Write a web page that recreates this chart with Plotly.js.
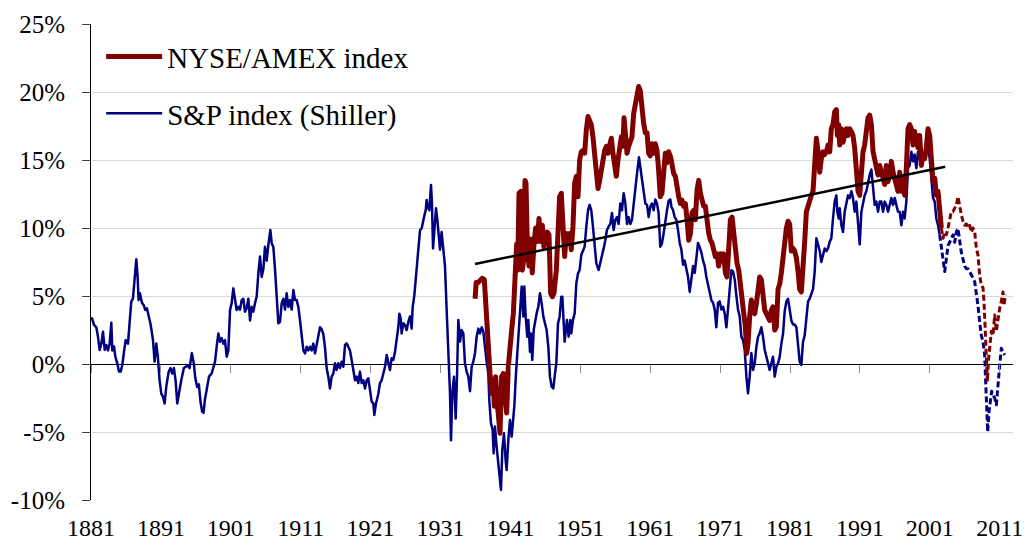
<!DOCTYPE html>
<html>
<head>
<meta charset="utf-8">
<script src="https://cdn.plot.ly/plotly-3.0.1.min.js"></script>
<style>
html,body{margin:0;padding:0;background:#fff;}
#chart{width:1030px;height:543px;}
.scatterlayer path.js-line{stroke-linejoin:round;}
</style>
</head>
<body>
<div id="chart"></div>
<script>
// S&P index (Shiller), solid part
var spYears = [1881.0,1881.15,1881.43,1881.76,1882.0,1882.24,1882.48,1882.72,1882.96,1883.19,1883.43,1883.67,1883.91,1884.05,1884.29,1884.48,1884.76,1885.0,1885.24,1885.48,1885.72,1885.96,1886.29,1886.53,1886.76,1887.0,1887.24,1887.48,1887.67,1887.81,1888.0,1888.29,1888.57,1888.76,1889.0,1889.24,1889.53,1889.86,1890.1,1890.34,1890.57,1890.81,1891.05,1891.29,1891.53,1891.76,1892.1,1892.38,1892.62,1892.86,1893.1,1893.34,1893.67,1893.91,1894.29,1894.62,1894.86,1895.1,1895.43,1895.72,1895.91,1896.19,1896.43,1896.67,1896.9,1897.1,1897.3,1897.55,1897.88,1898.26,1898.5,1898.74,1898.98,1899.22,1899.46,1899.69,1899.93,1900.17,1900.41,1900.65,1900.89,1901.12,1901.36,1901.6,1901.84,1902.08,1902.32,1902.56,1902.79,1903.03,1903.27,1903.51,1903.75,1903.99,1904.22,1904.46,1904.7,1904.94,1905.18,1905.42,1905.66,1905.89,1906.13,1906.37,1906.66,1906.85,1907.09,1907.32,1907.56,1907.8,1908.04,1908.28,1908.52,1908.75,1908.99,1909.23,1909.47,1909.71,1909.95,1910.19,1910.42,1910.66,1910.9,1911.14,1911.38,1911.62,1911.85,1912.09,1912.33,1912.57,1912.81,1913.05,1913.29,1913.52,1913.76,1914.0,1914.24,1914.48,1914.71,1914.95,1915.19,1915.43,1915.67,1915.91,1916.14,1916.38,1916.62,1916.86,1917.1,1917.34,1917.57,1917.81,1918.05,1918.29,1918.53,1918.77,1919.0,1919.24,1919.48,1919.72,1919.96,1920.2,1920.44,1920.67,1920.91,1921.15,1921.39,1921.53,1921.77,1922.1,1922.34,1922.58,1922.82,1923.06,1923.3,1923.54,1923.77,1924.01,1924.25,1924.49,1924.73,1924.97,1925.11,1925.3,1925.44,1925.68,1925.92,1926.16,1926.4,1926.64,1926.87,1927.02,1927.26,1927.49,1927.73,1927.92,1928.07,1928.3,1928.45,1928.64,1928.88,1929.02,1929.16,1929.4,1929.64,1929.78,1929.93,1930.12,1930.36,1930.55,1930.78,1930.93,1931.16,1931.4,1931.64,1931.88,1932.12,1932.36,1932.5,1932.69,1932.93,1933.17,1933.36,1933.55,1933.79,1934.02,1934.26,1934.5,1934.74,1934.98,1935.22,1935.46,1935.69,1935.93,1936.17,1936.41,1936.65,1936.89,1937.12,1937.36,1937.6,1937.84,1937.98,1938.22,1938.46,1938.6,1938.79,1939.03,1939.27,1939.51,1939.65,1939.84,1940.08,1940.32,1940.46,1940.7,1940.94,1941.18,1941.42,1941.56,1941.8,1942.04,1942.23,1942.37,1942.61,1942.85,1942.99,1943.18,1943.42,1943.56,1943.8,1943.94,1944.13,1944.33,1944.52,1944.75,1944.99,1945.23,1945.47,1945.71,1945.95,1946.18,1946.42,1946.66,1946.9,1947.14,1947.38,1947.57,1947.81,1948.04,1948.28,1948.43,1948.76,1949.09,1949.33,1949.57,1949.71,1949.95,1950.19,1950.43,1950.67,1950.9,1951.14,1951.38,1951.62,1951.86,1952.1,1952.33,1952.57,1952.81,1953.05,1953.29,1953.62,1953.86,1954.1,1954.34,1954.58,1954.81,1955.05,1955.29,1955.53,1955.77,1956.01,1956.25,1956.48,1956.72,1956.96,1957.2,1957.44,1957.68,1957.91,1958.15,1958.39,1958.63,1958.87,1959.11,1959.39,1959.58,1959.82,1960.06,1960.3,1960.54,1960.78,1961.01,1961.25,1961.49,1961.73,1961.97,1962.2,1962.44,1962.68,1962.92,1963.16,1963.4,1963.64,1963.88,1964.03,1964.27,1964.5,1964.74,1964.98,1965.22,1965.46,1965.7,1965.93,1966.17,1966.41,1966.65,1966.89,1967.13,1967.37,1967.6,1967.84,1968.08,1968.32,1968.56,1968.8,1969.03,1969.27,1969.51,1969.75,1969.99,1970.23,1970.46,1970.7,1970.94,1971.18,1971.42,1971.66,1971.9,1972.13,1972.37,1972.61,1972.85,1973.09,1973.33,1973.56,1973.8,1974.04,1974.28,1974.52,1974.76,1974.99,1975.23,1975.47,1975.71,1975.95,1976.19,1976.43,1976.66,1976.9,1977.14,1977.38,1977.62,1977.86,1978.09,1978.33,1978.57,1978.81,1979.05,1979.29,1979.53,1979.76,1980.0,1980.24,1980.48,1980.72,1980.95,1981.19,1981.43,1981.67,1981.91,1982.15,1982.38,1982.62,1982.86,1983.1,1983.34,1983.58,1983.81,1984.05,1984.29,1984.53,1984.77,1985.01,1985.25,1985.48,1985.72,1985.96,1986.2,1986.44,1986.68,1986.91,1987.15,1987.39,1987.63,1987.77,1987.96,1988.11,1988.35,1988.58,1988.82,1989.06,1989.3,1989.54,1989.78,1990.01,1990.25,1990.49,1990.73,1990.97,1991.21,1991.44,1991.68,1991.92,1992.16,1992.4,1992.64,1992.88,1993.11,1993.35,1993.59,1993.83,1994.07,1994.31,1994.54,1994.78,1995.02,1995.26,1995.5,1995.74,1995.98,1996.21,1996.45,1996.69,1996.93,1997.17,1997.4,1997.64,1997.88,1998.12,1998.36,1998.6,1998.83,1999.07,1999.31,1999.55,1999.79,2000.03,2000.27,2000.5,2000.74,2000.98,2001.22,2001.46,2001.7,2001.93,2002.17,2002.41];
var spValues = [3.3,3.36,2.87,2.7,2.0,1.03,1.5,2.37,1.03,1.4,1.0,1.5,3.04,1.0,1.3,0.54,0.05,-0.56,-0.56,-0.07,0.9,1.76,1.5,3.2,4.58,4.8,6.42,7.7,6.4,4.7,5.2,4.5,4.3,3.97,4.1,3.5,2.9,1.8,0.17,1.5,0.5,-1.18,-2.16,-2.4,-2.9,-1.7,-0.6,-0.3,-0.7,-0.3,-1.2,-2.9,-1.7,-1.2,-0.3,-0.2,-0.1,-0.3,0.8,0.0,-1.0,-1.7,-1.5,-2.8,-3.5,-3.6,-2.6,-1.9,-0.93,-0.7,-0.2,0.17,1.27,2.25,1.64,1.9,1.5,1.76,0.54,1.0,3.97,4.46,5.56,4.7,3.97,4.2,4.0,4.7,4.8,3.85,4.1,4.8,3.2,4.2,3.85,4.46,4.96,6.67,7.9,6.4,7.0,8.63,7.6,8.75,9.85,8.87,8.6,7.0,5.2,3.0,3.1,4.46,4.8,4.0,5.2,4.2,4.7,4.0,5.44,4.7,4.7,4.2,3.2,2.0,1.0,0.78,1.27,1.0,1.27,1.0,1.5,0.78,1.4,2.1,2.7,2.55,2.2,1.2,-0.3,-0.93,-1.8,-0.93,-0.7,0.05,-0.44,0.05,-0.3,0.17,-0.2,1.4,1.52,1.27,1.0,0.3,-0.44,-1.2,-0.93,-1.4,-0.56,-1.4,-1.2,-1.8,-1.2,-1.05,-1.9,-2.77,-2.9,-3.75,-2.9,-2.2,-1.4,-1.2,-0.7,-0.2,0.66,0.17,-0.44,0.42,0.3,0.9,1.76,2.74,3.7,3.35,2.25,3.0,2.86,2.5,3.1,3.5,2.6,4.2,5.07,6.4,8.14,9.36,9.85,9.97,10.5,10.8,11.3,12.06,11.6,11.3,13.16,11.8,8.5,9.85,11.45,10.6,9.5,8.4,9.7,8.1,7.2,3.97,1.27,-2.16,-5.6,-2.16,-0.93,-4.0,-0.93,3.24,1.64,2.5,2.25,0.05,-0.56,-0.93,-2.0,-0.2,0.17,0.78,2.0,2.6,2.25,2.7,2.4,1.0,0.17,-0.7,-2.65,-4.36,-4.85,-6.57,-4.6,-6.1,-7.55,-8.9,-9.26,-6.3,-5.1,-7.1,-7.8,-5.6,-4.12,-5.35,-3.9,-3.1,-0.7,1.27,2.1,3.5,5.7,3.5,5.7,3.5,2.0,3.24,0.9,2.25,0.3,2.5,3.24,3.72,4.2,5.2,4.46,3.5,2.98,2.5,1.27,-0.93,-1.66,-1.8,-0.7,0.05,2.99,3.48,4.95,4.95,1.64,3.23,2.01,3.23,2.25,3.23,3.72,5.93,6.66,6.91,8.01,8.26,8.63,10.1,11.3,11.7,11.3,10.1,8.63,7.4,6.91,7.4,8.01,8.5,9.1,9.85,10.1,10.3,11.1,9.85,10.6,10.8,10.3,11.8,11.3,12.55,11.8,10.3,10.8,10.3,10.6,11.8,13.3,14.0,15.2,14.5,13.3,12.55,11.8,11.7,10.8,11.57,11.8,11.3,12.1,11.8,11.1,8.63,8.87,9.6,10.6,11.3,12.0,12.1,11.57,11.3,10.8,10.6,9.85,8.9,8.4,7.3,7.6,6.9,6.4,5.3,6.4,7.2,6.7,7.6,8.9,8.6,8.2,7.6,7.2,6.4,5.9,5.4,4.7,4.5,4.0,2.7,4.5,4.6,4.0,4.2,3.7,2.7,4.0,5.7,6.9,6.8,6.2,5.0,4.0,3.5,2.0,1.76,1.03,-0.93,-2.16,-0.93,0.8,-0.44,0.05,1.27,2.0,2.25,2.7,2.0,1.03,0.54,0.05,-0.44,0.05,0.54,-0.93,-0.2,0.05,0.54,1.5,2.2,3.9,4.6,4.8,3.9,3.2,2.9,2.9,2.7,1.5,0.17,-0.07,1.64,2.1,3.36,4.6,4.8,5.1,5.5,6.8,9.24,8.8,8.3,7.5,8.0,8.5,8.3,8.5,9.0,9.24,10.7,11.94,12.4,11.2,10.7,11.45,10.2,9.7,11.2,11.94,12.4,12.2,12.7,12.2,11.2,11.94,10.2,8.8,11.2,11.94,12.4,12.7,13.4,13.9,14.3,12.7,11.7,11.94,11.2,11.94,11.94,11.2,11.94,11.7,11.2,11.7,12.2,11.7,12.2,11.7,11.2,11.2,10.2,11.2,10.7,11.94,14.4,14.6,15.6,14.9,15.4,14.4,15.6,15.1,15.9,15.1,15.1,15.6,16.1,15.1,13.4,12.2,11.94,10.7,10.2,9.5];

// S&P index, dashed (recent) part
var spProjYears = [2002.41,2002.65,2002.89,2003.13,2003.36,2003.6,2003.84,2004.08,2004.32,2004.56,2004.8,2005.03,2005.27,2005.51,2005.75,2005.99,2006.23,2006.46,2006.7,2006.94,2007.18,2007.42,2007.66,2007.89,2008.13,2008.37,2008.61,2008.85,2008.99,2009.13,2009.28,2009.47,2009.66,2009.85,2010.04,2010.28,2010.52,2010.76,2011.0,2011.23,2011.47,2011.71];
var spProjValues = [9.5,8.5,7.5,6.8,7.7,8.7,8.95,9.2,9.5,8.95,9.7,9.96,8.95,8.2,7.7,7.2,7.0,7.0,6.8,6.5,6.3,6.05,5.3,4.3,3.1,2.1,1.64,0.66,-1.3,-3.26,-4.98,-3.5,-2.8,-2.0,-2.3,-2.5,-3.0,-1.3,-0.07,1.15,0.9,0.66];

// NYSE/AMEX index, solid part
var nyYears = [1935.95,1936.1,1936.31,1936.65,1936.98,1937.27,1937.46,1937.6,1937.84,1938.08,1938.32,1938.55,1938.7,1938.89,1939.08,1939.27,1939.51,1939.75,1939.99,1940.22,1940.46,1940.7,1940.94,1941.18,1941.42,1941.65,1941.89,1942.04,1942.23,1942.51,1942.7,1942.89,1943.09,1943.23,1943.42,1943.66,1943.9,1944.13,1944.37,1944.61,1944.85,1945.09,1945.33,1945.57,1945.8,1946.04,1946.28,1946.52,1946.76,1947.0,1947.23,1947.57,1947.81,1948.04,1948.28,1948.52,1948.76,1949.0,1949.24,1949.47,1949.71,1949.95,1950.19,1950.43,1950.67,1950.9,1951.14,1951.38,1951.62,1951.86,1952.1,1952.33,1952.57,1952.81,1953.05,1953.29,1953.53,1953.77,1954.0,1954.24,1954.48,1954.72,1954.96,1955.2,1955.44,1955.67,1955.91,1956.15,1956.39,1956.63,1956.87,1957.1,1957.25,1957.49,1957.68,1957.91,1958.15,1958.39,1958.63,1958.87,1959.11,1959.35,1959.58,1959.82,1960.06,1960.3,1960.54,1960.78,1961.01,1961.25,1961.49,1961.73,1961.97,1962.2,1962.44,1962.68,1962.92,1963.16,1963.4,1963.64,1963.93,1964.12,1964.36,1964.6,1964.84,1965.08,1965.31,1965.55,1965.79,1966.03,1966.27,1966.51,1966.75,1966.98,1967.22,1967.46,1967.7,1967.94,1968.18,1968.41,1968.65,1968.89,1969.13,1969.37,1969.61,1969.84,1970.08,1970.32,1970.56,1970.8,1971.04,1971.28,1971.51,1971.75,1971.99,1972.23,1972.47,1972.71,1972.94,1973.18,1973.42,1973.66,1973.9,1974.14,1974.38,1974.61,1974.8,1974.99,1975.23,1975.47,1975.71,1975.95,1976.19,1976.43,1976.66,1976.9,1977.14,1977.38,1977.62,1977.86,1978.09,1978.33,1978.57,1978.81,1979.05,1979.29,1979.53,1979.76,1980.0,1980.24,1980.48,1980.72,1980.95,1981.19,1981.43,1981.67,1981.91,1982.15,1982.38,1982.62,1982.86,1983.1,1983.34,1983.58,1983.81,1984.05,1984.29,1984.53,1984.77,1985.01,1985.25,1985.48,1985.72,1985.96,1986.2,1986.44,1986.68,1986.91,1987.15,1987.39,1987.63,1987.77,1987.96,1988.11,1988.35,1988.58,1988.82,1989.06,1989.3,1989.54,1989.78,1990.01,1990.25,1990.49,1990.73,1990.97,1991.21,1991.44,1991.68,1991.92,1992.16,1992.4,1992.64,1992.88,1993.11,1993.35,1993.59,1993.83,1994.07,1994.31,1994.54,1994.78,1995.02,1995.26,1995.5,1995.74,1995.98,1996.21,1996.45,1996.69,1996.93,1997.17,1997.4,1997.64,1997.88,1998.12,1998.36,1998.6,1998.83,1999.07,1999.31,1999.55,1999.79,2000.03,2000.27,2000.5,2000.74,2000.98,2001.22,2001.46,2001.7,2001.93,2002.17,2002.41,2002.65];
var nyValues = [4.8,6.0,5.96,6.2,6.3,6.2,4.2,2.5,0.78,-0.7,-2.16,-1.2,-3.1,-0.93,-2.65,-3.6,-5.1,-0.93,-0.7,-2.16,-3.6,-0.2,1.76,2.5,3.7,7.4,8.8,6.9,12.55,12.7,6.9,7.6,13.5,13.3,8.8,7.2,9.2,6.7,8.8,10.0,9.0,10.7,9.0,10.2,8.6,9.2,9.7,9.5,5.2,4.95,5.2,6.9,10.1,12.3,12.55,10.6,7.9,9.6,9.1,9.6,8.4,10.1,13.3,13.8,12.3,15.0,15.6,15.7,15.5,17.2,18.2,17.9,17.6,16.7,15.5,13.5,12.9,13.5,14.3,14.8,15.7,16.0,15.5,16.1,16.6,15.5,14.8,13.8,15.0,16.2,16.7,16.0,18.1,16.7,15.5,16.0,16.5,16.7,18.4,19.2,19.9,20.4,20.1,18.7,17.7,17.0,17.0,15.5,15.3,16.2,15.5,16.2,15.7,14.3,12.3,12.55,14.5,15.5,14.8,15.6,15.2,14.5,14.0,13.8,12.8,12.3,11.8,12.05,11.6,11.8,10.6,9.1,9.6,11.1,11.3,10.6,12.8,13.5,12.55,12.05,11.6,11.6,10.3,9.6,9.1,8.9,8.4,7.9,8.1,7.2,8.1,7.6,8.1,6.7,6.4,8.9,10.6,10.8,9.4,8.1,7.4,6.9,5.9,5.2,3.96,2.74,0.78,1.5,3.5,4.7,3.96,3.7,4.46,5.7,6.4,6.2,4.7,3.96,3.7,3.5,3.2,3.96,4.2,2.5,2.74,5.5,5.9,6.7,8.0,9.4,10.0,10.5,10.3,8.3,8.5,8.3,7.8,6.8,5.5,5.3,6.8,9.0,11.2,11.7,12.2,12.4,12.7,14.9,16.6,15.6,14.1,15.1,15.6,15.4,15.6,16.1,15.6,17.3,17.6,18.55,18.7,16.8,17.6,16.1,17.3,16.3,17.1,17.3,16.8,17.3,17.1,16.8,15.9,14.1,12.7,12.4,14.4,15.6,16.1,17.6,18.1,18.3,17.6,15.6,14.9,14.4,13.9,14.6,14.1,13.6,13.2,14.6,13.4,13.9,14.9,14.1,13.6,13.2,12.7,14.1,12.7,13.65,12.4,14.4,17.3,17.6,17.3,16.1,17.1,16.4,15.9,16.8,14.6,15.4,15.1,15.9,17.3,16.8,14.4,13.4,13.65,12.4,12.7,11.2,10.0];

// NYSE/AMEX index, dashed (recent) part
var nyProjYears = [2002.65,2002.89,2003.13,2003.36,2003.6,2003.84,2004.08,2004.32,2004.56,2004.8,2005.03,2005.27,2005.51,2005.75,2005.99,2006.23,2006.46,2006.7,2006.94,2007.18,2007.42,2007.66,2007.89,2008.13,2008.37,2008.61,2008.75,2008.94,2009.09,2009.23,2009.42,2009.61,2009.8,2010.04,2010.28,2010.52,2010.76,2011.0,2011.23,2011.47,2011.61,2011.81];
var nyProjValues = [10.0,9.24,9.7,9.5,10.0,10.5,11.2,11.2,11.45,11.7,12.3,11.45,10.96,10.5,10.2,10.3,10.0,10.2,9.7,10.0,9.7,8.5,8.0,6.5,5.8,5.6,4.6,2.4,0.17,-1.3,0.42,1.64,2.4,2.1,3.6,2.4,3.4,4.1,4.6,5.3,4.3,5.1];

// Trend line
var trendYears = [1935.93, 2003.2];
var trendValues = [7.35, 14.5];

// Axis ticks
var xTickVals = [1881,1891,1901,1911,1921,1931,1941,1951,1961,1971,1981,1991,2001,2011];
var xTickText = ["1881","1891","1901","1911","1921","1931","1941","1951","1961","1971","1981","1991","2001","2011"];
var yTickVals = [-10,-5,0,5,10,15,20,25];
var yTickText = ["-10%","-5%","0%","5%","10%","15%","20%","25%"];

var RED = '#800000', BLUE = '#000080';
var FONT = '"Liberation Serif", "Times New Roman", Times, serif';
var xRange = [1881, 2012.9];
var yRange = [-10, 25];

var traces = [
  {x: spYears, y: spValues, type: 'scatter', mode: 'lines', name: 'S&P index (Shiller)',
   line: {color: BLUE, width: 2.5}, legendgroup: 'b', legendrank: 2, hoverinfo: 'x+y'},
  {x: spProjYears, y: spProjValues, type: 'scatter', mode: 'lines', showlegend: false,
   legendgroup: 'b', line: {color: BLUE, width: 3, dash: '6px,3px'}, hoverinfo: 'x+y'},
  {x: nyYears, y: nyValues, type: 'scatter', mode: 'lines', name: 'NYSE/AMEX index',
   line: {color: RED, width: 5}, legendgroup: 'a', legendrank: 1, hoverinfo: 'x+y'},
  {x: nyProjYears, y: nyProjValues, type: 'scatter', mode: 'lines', showlegend: false,
   legendgroup: 'a', line: {color: RED, width: 3, dash: '6px,3px'}, hoverinfo: 'x+y'},
  {x: trendYears, y: trendValues, type: 'scatter', mode: 'lines', showlegend: false,
   xaxis: 'x2', yaxis: 'y2', line: {color: '#000000', width: 2.5}, hoverinfo: 'skip'}
];

var layout = {
  width: 1030, height: 543,
  margin: {l: 91, r: 17, t: 24, b: 43},
  paper_bgcolor: '#ffffff', plot_bgcolor: '#ffffff',
  font: {family: FONT, size: 25, color: '#000000'},
  showlegend: true,
  legend: {x: 0.011, y: 0.985, xanchor: 'left', yanchor: 'top',
           bgcolor: 'rgba(0,0,0,0)', borderwidth: 0,
           font: {family: FONT, size: 29, color: '#000000'},
           itemwidth: 56, tracegroupgap: 16, traceorder: 'grouped'},
  // main x axis: labels only (transparent ticks push labels down)
  xaxis: {range: xRange, tickmode: 'array', tickvals: xTickVals, ticktext: xTickText,
          showgrid: false, zeroline: false, showline: false,
          ticks: 'outside', ticklen: 6, tickcolor: 'rgba(0,0,0,0)',
          tickfont: {family: FONT, size: 24, color: '#000000'}},
  // tick marks at the 0% line
  xaxis2: {range: xRange, overlaying: 'x', anchor: 'free', position: 10/35,
           tickmode: 'array', tickvals: xTickVals, showticklabels: false,
           ticks: 'outside', ticklen: 8, tickwidth: 1, tickcolor: '#8c8c8c',
           showgrid: false, zeroline: false, showline: false},
  // main y axis: grid, zero line, axis line and labels (transparent long ticks = label gap)
  yaxis: {range: yRange, tickmode: 'array', tickvals: yTickVals, ticktext: yTickText,
          showgrid: true, gridcolor: '#d9d9d9', gridwidth: 1,
          zeroline: true, zerolinecolor: '#000000', zerolinewidth: 1,
          showline: true, linecolor: '#000000', linewidth: 1,
          ticks: 'outside', ticklen: 20, tickcolor: 'rgba(0,0,0,0)',
          tickfont: {family: FONT, size: 25, color: '#000000'}},
  // visible short tick marks on the y axis
  yaxis2: {range: yRange, overlaying: 'y', side: 'left', anchor: 'x',
           tickmode: 'array', tickvals: yTickVals, showticklabels: false,
           ticks: 'outside', ticklen: 8, tickwidth: 1, tickcolor: '#404040',
           showgrid: false, zeroline: false, showline: false}
};

Plotly.newPlot('chart', traces, layout, {staticPlot: true, displayModeBar: false});
</script>
</body>
</html>
